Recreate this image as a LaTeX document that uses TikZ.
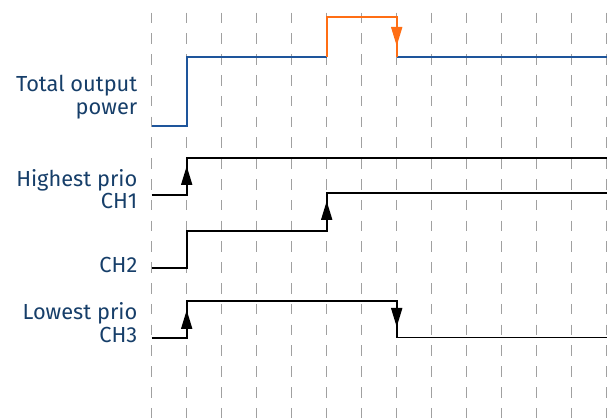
\documentclass[tikz,border=0pt]{standalone}
\usepackage{fontspec}
\setmainfont{Fira Sans}
\usetikzlibrary{arrows.meta}
\definecolor{txtblue}{RGB}{22,62,105}
\definecolor{pwrblue}{RGB}{30,85,155}
\definecolor{pkorange}{RGB}{255,110,20}
\definecolor{gridgray}{RGB}{160,160,160}
\tikzset{
  grid/.style={draw=gridgray, line width=1.3pt, dash pattern=on 10.5pt off 10.3pt},
  sig/.style={line width=1.9pt, line join=miter},
  lbl/.style={anchor=base east, inner sep=0pt, text=txtblue, font=\fontsize{21.8}{23}\selectfont},
  tip/.style={-{Triangle[length=19pt,width=11pt]}},
}
\begin{document}
\begin{tikzpicture}[x=1pt,y=-1pt]
\useasboundingbox (0,0) rectangle (614,419);
% grid
\foreach \i in {0,...,13} {
  \draw[grid] (151.7+35*\i,12.7) -- (151.7+35*\i,419);
}
% coordinates
\foreach \i in {0,...,13} { \coordinate (x\i) at (151.7+35*\i,0); }
% labels
\node[lbl] (t1) at (137.5,92) {Total output};
\node[lbl] (t2) at (137.5,115) {power};
\node[lbl] (h1) at (137.5,186.5) {Highest prio};
\node[lbl] (h2) at (137.5,209) {CH1};
\node[lbl] (c2) at (137.5,273) {CH2};
\node[lbl] (l1) at (137.5,319.5) {Lowest prio};
\node[lbl] (l2) at (137.5,343) {CH3};
% total output power
\draw[sig, pwrblue] (x0 |- 0,126) -- (x1 |- 0,126) -- (x1 |- 0,57) -- (x5 |- 0,57);
\draw[sig, pwrblue] (x7 |- 0,57) -- (x13 |- 0,57);
\draw[sig, pkorange] (x5 |- 0,57) -- (x5 |- 0,17.3) -- (x7 |- 0,17.3) -- (x7 |- 0,57);
\draw[sig, pkorange, tip] (x7 |- 0,17.3) -- (x7 |- 0,46);
% CH1
\draw[sig] (x0 |- 0,195) -- (x1 |- 0,195) -- (x1 |- 0,158.3) -- (x13 |- 0,158.3);
\draw[sig, tip] (x1 |- 0,195) -- (x1 |- 0,166);
% CH2
\draw[sig] (x0 |- 0,267.7) -- (x1 |- 0,267.7) -- (x1 |- 0,230.7) -- (x5 |- 0,230.7) -- (x5 |- 0,192.7) -- (x13 |- 0,192.7);
\draw[sig, tip] (x5 |- 0,230.7) -- (x5 |- 0,201);
% CH3
\draw[sig] (x0 |- 0,337.7) -- (x1 |- 0,337.7) -- (x1 |- 0,301) -- (x7 |- 0,301) -- (x7 |- 0,337.5) -- (x13 |- 0,337.5);
\draw[sig, tip] (x1 |- 0,337.7) -- (x1 |- 0,310);
\draw[sig, tip] (x7 |- 0,301) -- (x7 |- 0,327);
\end{tikzpicture}
\end{document}
